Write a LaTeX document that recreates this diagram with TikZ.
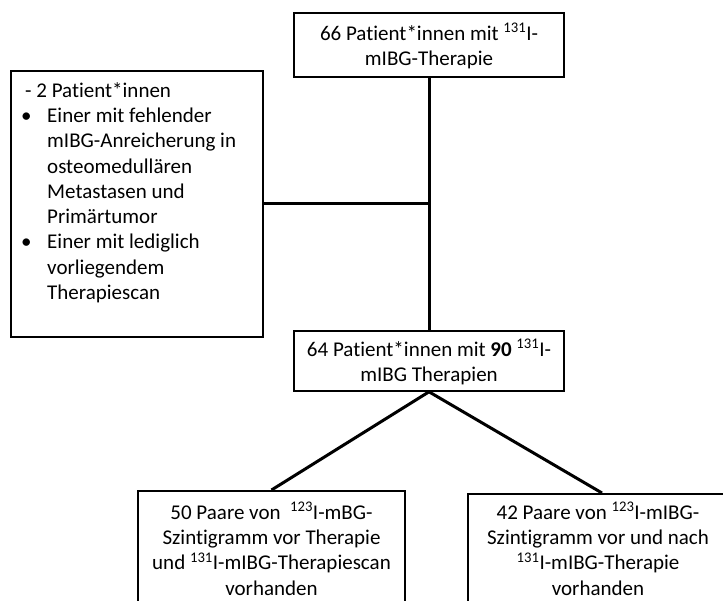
\documentclass[tikz,border=0pt]{standalone}
\usepackage{fontspec}
\setmainfont{Carlito}[Ligatures=NoCommon]
\begin{document}
\begin{tikzpicture}[x=1pt,y=-1pt,
  box/.style={draw, line width=1.6pt, rectangle, inner sep=0pt},
  conn/.style={line width=3pt},
  txt/.style={font=\fontsize{21}{25.3}\selectfont, inner sep=0pt}]
\useasboundingbox (0,0) rectangle (723,601);
\clip (0,0) rectangle (723,601);
% boxes
\node[box, minimum width=270pt, minimum height=64pt] (top) at (429,45) {};
\node[txt, align=center] (toptxt) at (429,46) {66 Patient*innen mit \textsuperscript{131}I-\\mIBG-Therapie};
\node[box, minimum width=252pt, minimum height=266pt] (excl) at (137,204) {};
\node[txt, align=left, anchor=north west] (excltxt) at (21,82) {\hspace{4pt}- 2 Patient*innen\\
\makebox[26pt][l]{•}Einer mit fehlender\\
\hspace{26pt}mIBG-Anreicherung in\\
\hspace{26pt}osteomedullären\\
\hspace{26pt}Metastasen und\\
\hspace{26pt}Primärtumor\\
\makebox[26pt][l]{•}Einer mit lediglich\\
\hspace{26pt}vorliegendem\\
\hspace{26pt}Therapiescan};
\node[box, minimum width=270pt, minimum height=60pt] (mid) at (429,361) {};
\node[txt, align=center] (midtxt) at (429,362) {64 Patient*innen mit \textbf{90} \textsuperscript{131}I-\\mIBG Therapien};
\node[box, minimum width=267pt, minimum height=160pt, anchor=north] (bl) at (271.5,490) {};
\node[txt, align=center, anchor=north] (bltxt) at (271.5,502) {50 Paare von \ \textsuperscript{123}I-mBG-\\Szintigramm vor Therapie\\und \textsuperscript{131}I-mIBG-Therapiescan\\vorhanden};
\node[box, minimum width=262pt, minimum height=160pt, anchor=north west] (br) at (467,493) {};
\node[txt, align=center, anchor=north] (brtxt) at (598,502) {42 Paare von \textsuperscript{123}I-mIBG-\\Szintigramm vor und nach\\\textsuperscript{131}I-mIBG-Therapie\\vorhanden};
% connectors
\draw[conn] (top.south) -- (mid.north);
\draw[conn] (excl.east) -- (excl.east -| top.south);
\draw[conn] (mid.south) -- (bl.north);
\draw[conn] (mid.south) -- (br.north -| 602,0);
\end{tikzpicture}
\end{document}
